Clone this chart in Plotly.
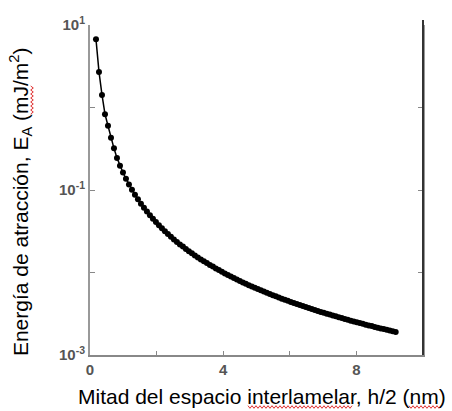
import plotly.graph_objects as go

# half interlamellar spacing h/2 (nm)
h_half = [0.18, 0.27, 0.36, 0.45, 0.54, 0.63, 0.72, 0.81, 0.90, 0.99,
          1.08, 1.17, 1.26, 1.35, 1.44, 1.53, 1.62, 1.71, 1.80, 1.89,
          1.98, 2.07, 2.16, 2.25, 2.34, 2.43, 2.52, 2.61, 2.70, 2.79,
          2.88, 2.97, 3.06, 3.15, 3.24, 3.33, 3.42, 3.51, 3.60, 3.69,
          3.78, 3.87, 3.96, 4.05, 4.14, 4.23, 4.32, 4.41, 4.50, 4.59,
          4.68, 4.77, 4.86, 4.95, 5.04, 5.13, 5.22, 5.31, 5.40, 5.49,
          5.58, 5.67, 5.76, 5.85, 5.94, 6.03, 6.12, 6.21, 6.30, 6.39,
          6.48, 6.57, 6.66, 6.75, 6.84, 6.93, 7.02, 7.11, 7.20, 7.29,
          7.38, 7.47, 7.56, 7.65, 7.74, 7.83, 7.92, 8.01, 8.10, 8.19,
          8.28, 8.37, 8.46, 8.55, 8.64, 8.73, 8.82, 8.91, 9.00, 9.09, 9.18]

# attraction energy E_A (mJ/m^2)
energy = [6.7, 2.7, 1.42, 0.83, 0.60, 0.43, 0.32, 0.245, 0.197, 0.163,
          0.137, 0.1169, 0.1008, 0.0878, 0.0772, 0.0683, 0.0610, 0.0547, 0.0494, 0.0448,
          0.0408, 0.0373, 0.0343, 0.0316, 0.0292, 0.0271, 0.0252, 0.0235, 0.0219, 0.0206,
          0.0193, 0.0181, 0.0171, 0.0161, 0.0152, 0.0144, 0.0137, 0.0130, 0.0123, 0.0118,
          0.0112, 0.0107, 0.0102, 0.00975, 0.00934, 0.00894, 0.00857, 0.00823, 0.00790, 0.00759,
          0.00731, 0.00703, 0.00677, 0.00653, 0.00630, 0.00608, 0.00587, 0.00567, 0.00549, 0.00531,
          0.00514, 0.00498, 0.00482, 0.00468, 0.00453, 0.00440, 0.00427, 0.00415, 0.00403, 0.00392,
          0.00381, 0.00371, 0.00361, 0.00351, 0.00342, 0.00333, 0.00325, 0.00317, 0.00309, 0.00301,
          0.00294, 0.00287, 0.00280, 0.00273, 0.00267, 0.00261, 0.00255, 0.00249, 0.00244, 0.00239,
          0.00233, 0.00228, 0.00224, 0.00219, 0.00214, 0.00210, 0.00206, 0.00202, 0.00198, 0.00194, 0.00190]

x_tickvals = [0, 2, 4, 6, 8]
x_ticktext = ["0", "", "4", "", "8"]
y_tickvals = [1e-3, 1e-2, 1e-1, 1e0, 1e1]
y_ticktext = ["10<sup>-3</sup>", "", "10<sup>-1</sup>", "", "10<sup>1</sup>"]

x_title = "Mitad del espacio interlamelar, h/2 (nm)"
y_title = "Energía de atracción, E<sub>A</sub> (mJ/m<sup>2</sup>)"

# plot area in pixels (for decorative spell-check squiggles)
L, R, T, B = 90, 423, 25, 355


def px(x):
    return (x - L) / (R - L)


def py(y):
    return (B - y) / (B - T)


def squiggle_h(x0, x1, y, amp=1.3, step=2.0):
    pts = []
    x = x0
    i = 0
    while x <= x1:
        pts.append((px(x), py(y + (amp if i % 2 else -amp))))
        x += step
        i += 1
    return "M " + " L ".join(f"{a:.5f},{b:.5f}" for a, b in pts)


def squiggle_v(x, y0, y1, amp=1.3, step=2.0):
    pts = []
    y = y0
    i = 0
    while y <= y1:
        pts.append((px(x + (amp if i % 2 else -amp)), py(y)))
        y += step
        i += 1
    return "M " + " L ".join(f"{a:.5f},{b:.5f}" for a, b in pts)


red = dict(color="#e03030", width=1)

fig = go.Figure()
fig.add_trace(go.Scatter(
    x=h_half, y=energy, mode="lines+markers",
    line=dict(color="black", width=1.5),
    marker=dict(color="black", size=6),
    showlegend=False,
))

tickfont = dict(family="Liberation Sans, Arial", size=15, color="#555", weight="bold")
fig.update_layout(
    width=452, height=411,
    margin=dict(l=L, r=452 - R, t=T, b=411 - B),
    paper_bgcolor="white", plot_bgcolor="white",
    font=dict(family="Liberation Sans, Arial", color="black"),
    xaxis=dict(
        range=[0, 10], tickvals=x_tickvals, ticktext=x_ticktext,
        ticks="inside", ticklen=4, tickcolor="#888", tickwidth=1,
        showline=True, linecolor="#888", linewidth=2,
        showgrid=False, zeroline=False, tickfont=tickfont,
    ),
    yaxis=dict(
        type="log", range=[-3, 1], tickvals=y_tickvals, ticktext=y_ticktext,
        ticks="inside", ticklen=5, tickcolor="#888", tickwidth=1,
        showline=True, linecolor="#999", linewidth=2, mirror="ticks",
        showgrid=False, zeroline=False, tickfont=tickfont,
    ),
    shapes=[
        dict(type="line", xref="paper", yref="paper", x0=1, x1=1, y0=0, y1=1.015,
             line=dict(color="#333", width=2), layer="above"),
        dict(type="path", xref="paper", yref="paper", path=squiggle_h(248, 352, 407), line=red),
        dict(type="path", xref="paper", yref="paper", path=squiggle_h(409, 442, 407), line=red),
        dict(type="path", xref="paper", yref="paper", path=squiggle_v(32, 86, 114), line=red),
    ],
    annotations=[
        dict(text=x_title, xref="paper", yref="paper", x=0.5165, y=-0.127,
             xanchor="center", yanchor="middle", showarrow=False,
             font=dict(size=21, color="black")),
        dict(text=y_title, xref="paper", yref="paper", x=-0.21, y=0.4636,
             xanchor="center", yanchor="middle", showarrow=False, textangle=-90,
             font=dict(size=21, color="black")),
    ],
)

fig.write_html("out.html")
